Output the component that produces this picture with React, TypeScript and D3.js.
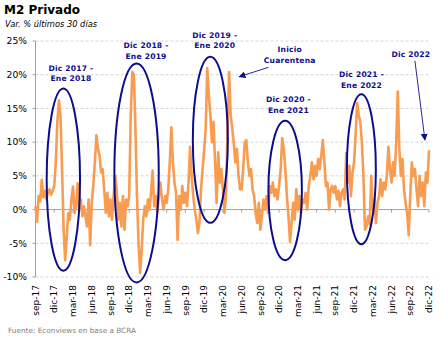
import React from 'react';
import * as d3 from 'd3';

// Weekly-ish readings (4 per month), % change over last 30 days
const values2017 = [
  0.5, -1.8, 2.0, 1.2,
  4.4, 1.8, 2.8, 1.5,
  2.5, 3.0, 2.2, 2.8,
  3.5, 7, 13, 16.2,
];
const values2018 = [
  14, 6, -3, -7.5,
  -4, -0.5, -1.5, 1.5,
  3.4, -0.5, 0.5, 3.9,
  0, 1.5, -1, 0.5,
  -1, -2.5, 1.5, -5.3,
  1, 3.5, 7, 11,
  9, 8, 5.5, 6,
  3, -0.5, 2.5, -1,
  1.5, -1.5, 2, 5,
  3.0, -1.5, 1.0, -2.5,
  2.0, -3.0, 1.5, 0.5,
  2, 14, 20.4, 20,
];
const values2019 = [
  12, 2, -5, -9.4,
  -6, -1.5, 0.5, -1,
  1.5, 0, 2.5, 5.8,
  0.5, 2, -0.5, 2,
  4, 1.5, 0, 2,
  1, 3, 7, 12.2,
  7, 4, 2.5, -4.5,
  2, 0, 3.5, 1,
  2.5, 0.5, 4, 9.3,
  5, 2, 0, -1.5,
  -3.5, -2, 3, 6,
  8.8, 12, 21, 17,
];
const values2020 = [
  14, 10, 13, 7,
  1, 8.5, 4, 6,
  3, -0.5, 2, 12,
  20.4, 14, 12, 9.8,
  7, 9, 5, 3,
  3, 6, 10, 10.3,
  7, 5, 6, 3,
  2, -0.5, -2, 1,
  -3, -1, 1.5, 0,
  2, -0.5, 3.5, 2.5,
  4, 2, 3, 1.5,
  3.5, 6, 10.6, 9,
];
const values2021 = [
  6, 2, -1, -4.8,
  -2, 1, -1.5, 3,
  0, 2, -0.5, 1.5,
  1, 2.5, 0, 3.5,
  5, 7, 4.5, 6.5,
  5, 7.5, 6, 8,
  10.3, 7, 3.5, 4,
  0, 3, 3.5, 2.5,
  3.5, 1.5, 2.8, 0.5,
  2.5, 3, 1.5, 8.4,
  4, 6.5, 2, 5.5,
  7, 11, 15.8, 14,
];
const values2022 = [
  13, 10, 5, -3,
  -2.5, -1, -2.2, 5,
  0, 1.5, -2, 1,
  2, 4.5, 2, 4,
  3, 5, 9.3, 6,
  4, 7, 5, 10,
  17.5, 9, 5, 7.5,
  3, 1, -0.5, -3.8,
  2, 7, 5, 6,
  3, 0.5, 5, 2,
  4, 0.5, 5.5, 4,
  8.8,
];

const tickLabels = [
  'sep-17', 'dic-17', 'mar-18', 'jun-18', 'sep-18', 'dic-18', 'mar-19', 'jun-19',
  'sep-19', 'dic-19', 'mar-20', 'jun-20', 'sep-20', 'dic-20', 'mar-21', 'jun-21',
  'sep-21', 'dic-21', 'mar-22', 'jun-22', 'sep-22', 'dic-22',
];
const yTicks = [-10, -5, 0, 5, 10, 15, 20, 25];

// Annotations in data units (month index from sep-17, % value)
const ellipses = [
  { m: 4.46, rm: 2.67, v: 4.44, rv: 13.5 },
  { m: 16.18, rm: 3.55, v: 5.43, rv: 16.24 },
  { m: 27.99, rm: 2.8, v: 10.34, rv: 12.31 },
  { m: 39.97, rm: 2.68, v: 2.83, rv: 10.33 },
  { m: 52.17, rm: 2.32, v: 5.99, rv: 11.12 },
];
const noteLabels = [
  { m: 5.68, v: 20.6, lines: ['Dic 2017 -', 'Ene 2018'] },
  { m: 17.7, v: 23.9, lines: ['Dic 2018 -', 'Ene 2019'] },
  { m: 28.7, v: 25.5, lines: ['Dic 2019 -', 'Ene 2020'] },
  { m: 40.7, v: 23.4, lines: ['Inicio', 'Cuarentena'] },
  { m: 40.5, v: 15.9, lines: ['Dic 2020 -', 'Ene 2021'] },
  { m: 52.2, v: 19.7, lines: ['Dic 2021 -', 'Ene 2022'] },
  { m: 60.1, v: 22.6, lines: ['Dic 2022'] },
];
const arrows = [
  { m0: 37.3, v0: 21.1, m1: 32.6, v1: 19.7 },
  { m0: 60.75, v0: 22.05, m1: 62.35, v1: 10.3 },
];

const NAVY = '#0d0d8c';
const FONT = '"DejaVu Sans", Verdana, sans-serif';

export default function App() {
  const W = 443;
  const H = 340;
  const x = d3.scaleLinear().domain([0, 63]).range([35.5, 429]);
  const y = d3.scaleLinear().domain([-10, 25]).range([277, 41]);

  const all = [...values2017, ...values2018, ...values2019, ...values2020, ...values2021, ...values2022];
  const series = all.map((v, i) => ({ m: i * 0.25, v }));
  const line = d3
    .line<{ m: number; v: number }>()
    .x((d) => x(d.m))
    .y((d) => y(d.v));

  const xTickPos = tickLabels.map((_, i) => i * 3);
  const [x0, x1] = x.range();

  return (
    <svg
      width={W}
      height={H}
      viewBox={`0 0 ${W} ${H}`}
      style={{ position: 'absolute', left: 0, top: 0, background: '#fff' }}
      fontFamily={FONT}
    >
      <defs>
        <marker id="arr" viewBox="0 0 10 10" refX="9" refY="5" markerWidth="7" markerHeight="7" orient="auto-start-reverse" markerUnits="userSpaceOnUse">
          <path d="M0,0 L10,5 L0,10 z" fill={NAVY} />
        </marker>
      </defs>

      <text x={4} y={14} fontSize={12} fontWeight="bold" fill="#000">M2 Privado</text>
      <text x={5} y={26.5} fontSize={8.3} fontStyle="italic" fill="#000">Var. % últimos 30 días</text>

      {/* grid */}
      {yTicks.filter((t) => t !== 0).map((t) => (
        <line key={t} x1={x0} x2={x1} y1={y(t)} y2={y(t)} stroke="#d6d6d6" strokeWidth={1} strokeDasharray="3,2" />
      ))}

      {/* y axis */}
      <line x1={x0} x2={x0} y1={y(-10)} y2={y(25)} stroke="#a0a0a0" strokeWidth={1} />
      {yTicks.map((t) => (
        <g key={t}>
          <line x1={x0 - 3} x2={x0} y1={y(t)} y2={y(t)} stroke="#a0a0a0" />
          <text x={27} y={y(t)} dy="0.35em" textAnchor="end" fontSize={9.2} fill="#000">{`${t}%`}</text>
        </g>
      ))}

      {/* zero line + x ticks */}
      <line x1={x0} x2={x1} y1={y(0)} y2={y(0)} stroke="#a0a0a0" strokeWidth={1} />
      {xTickPos.map((m) => (
        <line key={m} x1={x(m)} x2={x(m)} y1={y(0)} y2={y(0) + 3} stroke="#a0a0a0" />
      ))}

      {/* series */}
      <path d={line(series) || ''} fill="none" stroke="#F89C52" strokeWidth={2.6} strokeLinejoin="round" />

      {/* x labels */}
      {tickLabels.map((lab, i) => (
        <text
          key={lab}
          transform={`translate(${x(xTickPos[i])},285) rotate(-90)`}
          dy="0.35em"
          textAnchor="end"
          fontSize={9}
          fill="#000"
        >
          {lab}
        </text>
      ))}

      {/* ellipses */}
      {ellipses.map((e, i) => (
        <ellipse
          key={i}
          cx={x(e.m)}
          cy={y(e.v)}
          rx={x(e.m + e.rm) - x(e.m)}
          ry={y(e.v - e.rv) - y(e.v)}
          fill="none"
          stroke={NAVY}
          strokeWidth={2}
        />
      ))}

      {/* arrows */}
      {arrows.map((a, i) => (
        <line key={i} x1={x(a.m0)} y1={y(a.v0)} x2={x(a.m1)} y2={y(a.v1)} stroke={NAVY} strokeWidth={0.9} markerEnd="url(#arr)" />
      ))}

      {/* annotation labels */}
      {noteLabels.map((l, i) => (
        <text key={i} x={x(l.m)} y={y(l.v)} textAnchor="middle" fontSize={7.6} fontWeight="bold" letterSpacing={0.2} fill={NAVY}>
          {l.lines.map((s, j) => (
            <tspan key={j} x={x(l.m)} dy={j === 0 ? 0 : 10.8}>{s}</tspan>
          ))}
        </text>
      ))}

      <text x={8} y={333} fontSize={7.3} fill="#808080">Fuente: Econviews en base a BCRA</text>
    </svg>
  );
}
